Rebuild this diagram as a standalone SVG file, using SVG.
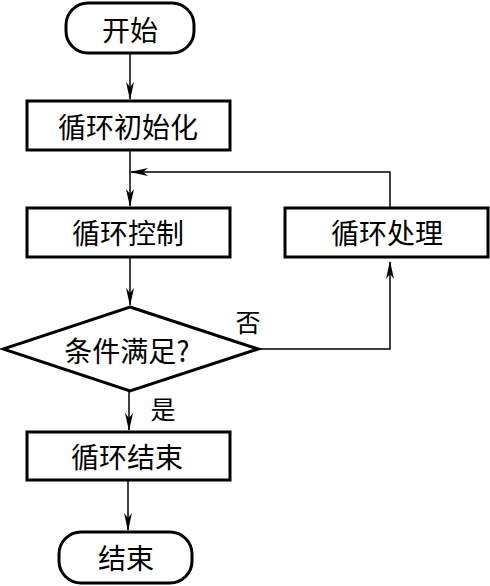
<svg xmlns="http://www.w3.org/2000/svg" width="490" height="586" viewBox="0 0 490 586">
<style>
.shape{fill:#fff;stroke:#000;stroke-width:3}
.t{font-family:"Noto Sans CJK SC","Noto Sans CJK JP",sans-serif;font-size:28px;fill:#000;text-anchor:middle;dominant-baseline:central}
.lbl{font-family:"Noto Sans CJK SC","Noto Sans CJK JP",sans-serif;font-size:25px;fill:#000;text-anchor:middle;dominant-baseline:central}
.c{fill:none;stroke:#000;stroke-width:1.5}
</style>
<defs>
<marker id="ah" markerWidth="18" markerHeight="8" refX="17" refY="4" orient="auto" markerUnits="userSpaceOnUse" viewBox="0 0 18 8">
<path d="M0,0 L18,4 L0,8 L5,4 Z" fill="#000"/>
</marker>
</defs>
<rect width="490" height="586" fill="#fff"/>
<g id="connectors">
<line class="c" x1="130" y1="53" x2="130" y2="99" marker-end="url(#ah)"/>
<line class="c" x1="130" y1="150" x2="130" y2="206" marker-end="url(#ah)"/>
<polyline class="c" points="390,208 390,172 131,172" marker-end="url(#ah)"/>
<line class="c" x1="130" y1="257" x2="130" y2="305" marker-end="url(#ah)"/>
<polyline class="c" points="258,349 390,349 390,262" marker-end="url(#ah)"/>
<line class="c" x1="129" y1="391" x2="129" y2="430" marker-end="url(#ah)"/>
<line class="c" x1="128" y1="480" x2="128" y2="530" marker-end="url(#ah)"/>
</g>
<g id="start">
<rect class="shape" x="66" y="3" width="128" height="50" rx="22"/>
<text class="t" x="130" y="29">开始</text>
</g>
<g id="init">
<rect class="shape" x="27" y="101" width="203" height="49"/>
<text class="t" x="128" y="126">循环初始化</text>
</g>
<g id="control">
<rect class="shape" x="27" y="208" width="203" height="49"/>
<text class="t" x="128" y="232">循环控制</text>
</g>
<g id="process">
<rect class="shape" x="285" y="208" width="203" height="49"/>
<text class="t" x="387" y="232">循环处理</text>
</g>
<g id="decision">
<polygon class="shape" points="130,307 258,349 130,391 3,349"/>
<text class="t" x="127" y="350">条件满足?</text>
</g>
<g id="finish">
<rect class="shape" x="27" y="432" width="203" height="48"/>
<text class="t" x="127" y="456">循环结束</text>
</g>
<g id="end">
<rect class="shape" x="59" y="532" width="133" height="51" rx="22"/>
<text class="t" x="126" y="557">结束</text>
</g>
<g id="labels">
<text class="lbl" x="248" y="321">否</text>
<text class="lbl" x="163" y="408">是</text>
</g>
</svg>
